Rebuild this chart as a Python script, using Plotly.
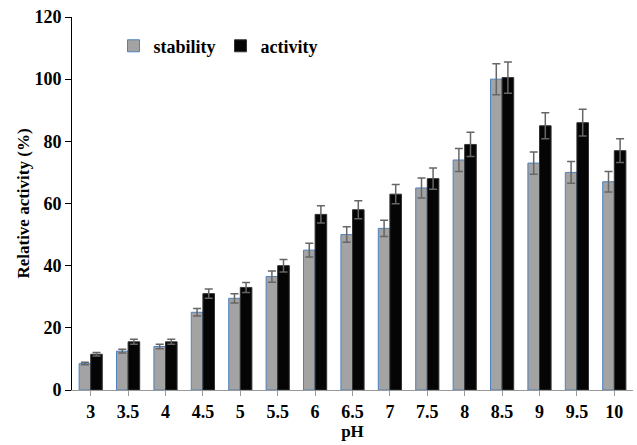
import plotly.graph_objects as go

ph = ["3", "3.5", "4", "4.5", "5", "5.5", "6", "6.5", "7", "7.5", "8", "8.5", "9", "9.5", "10"]
stability = [8.5, 12.5, 14, 25, 29.5, 36.5, 45, 50, 52, 65, 74, 100, 73, 70, 67]
stability_err = [0.4, 0.6, 0.7, 1.2, 1.5, 1.8, 2.2, 2.5, 2.6, 3.2, 3.7, 5, 3.6, 3.5, 3.3]
activity = [11.5, 15.5, 15.5, 31, 33, 40, 56.5, 58, 63, 68, 79, 100.5, 85, 86, 77]
activity_err = [0.6, 0.8, 0.8, 1.5, 1.6, 2, 2.8, 2.9, 3.1, 3.4, 3.9, 5, 4.2, 4.3, 3.8]
y_ticks = [0, 20, 40, 60, 80, 100, 120]

FONT = "Liberation Serif"

fig = go.Figure()
fig.add_trace(go.Bar(
    x=ph, y=stability, name="<b>stability</b>",
    marker=dict(color="#a3a3a3", line=dict(color="#4f81bd", width=1)),
    error_y=dict(type="data", array=stability_err, color="#666666", thickness=1.5, width=4),
))
fig.add_trace(go.Bar(
    x=ph, y=activity, name="<b>activity</b>",
    marker=dict(color="#050505", line=dict(color="#333333", width=1)),
    error_y=dict(type="data", array=activity_err, color="#666666", thickness=1.5, width=4),
))

fig.update_layout(
    width=637, height=445,
    margin=dict(l=72, r=4, t=17, b=55),
    paper_bgcolor="white", plot_bgcolor="white",
    barmode="group", bargap=0.38, bargroupgap=0.0,
    font=dict(family=FONT, color="black", size=16),
    showlegend=True,
    legend=dict(orientation="h", x=0.074, y=0.922, xanchor="left", yanchor="middle",
                font=dict(family=FONT, size=18), bgcolor="rgba(0,0,0,0)",
                itemwidth=30, traceorder="normal"),
)
fig.update_xaxes(
    type="category", showline=True, linecolor="#999999", linewidth=1,
    ticks="outside", ticklen=5, tickcolor="#999999",
    tickvals=ph, ticktext=["<b>" + p + "</b>" for p in ph],
    tickfont=dict(family=FONT, size=18),
    title=dict(text="<b>pH</b>", font=dict(family=FONT, size=17), standoff=0),
    showgrid=False, zeroline=False,
)
fig.update_yaxes(
    range=[0, 120], showline=True, linecolor="black", linewidth=1,
    ticks="outside", ticklen=6, tickcolor="black",
    tickvals=y_ticks, ticktext=["<b>%d</b>" % v for v in y_ticks],
    tickfont=dict(family=FONT, size=18),
    title=dict(text="<b>Relative activity (%)</b>", font=dict(family=FONT, size=17), standoff=0),
    showgrid=False, zeroline=False,
)

fig.write_html("out.html")
